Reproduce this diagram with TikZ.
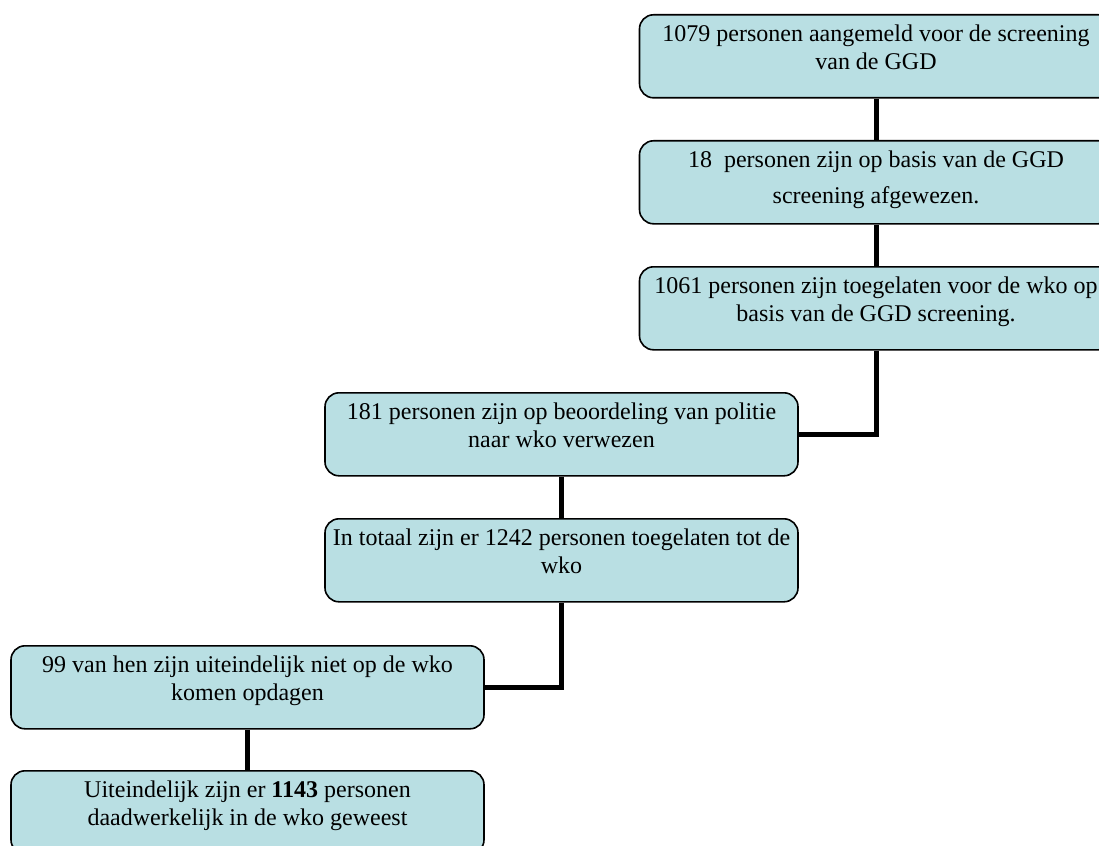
\documentclass[tikz,border=0pt]{standalone}
\usepackage{fontspec}
\setmainfont{Liberation Serif}
\usepackage{tikz}
\usetikzlibrary{arrows.meta}
\usetikzlibrary{calc}

\definecolor{boxfill}{RGB}{185,223,227}
\newcommand{\boxtxt}[1]{\parbox[c][83pt][t]{473pt}{\centering\fontsize{24}{28}\selectfont\rule{0pt}{27pt}#1}}

\tikzset{
	stage/.style={draw=black, line width=1.6pt, fill=boxfill, rounded corners=14pt,
		minimum width=473pt, minimum height=83pt, inner sep=0pt, anchor=north},
	link/.style={line width=5pt}
}

\begin{document}
\begin{tikzpicture}[x=1pt,y=-1pt]
\useasboundingbox (0,0) rectangle (1099,845);
\clip (0,0) rectangle (1099,845);

\node[stage] (b1) at (876,14) {\boxtxt{1079 personen aangemeld voor de screening\\van de GGD}};
\node[stage] (b2) at (876,140) {\boxtxt{18\ \ personen zijn op basis van de GGD\\[8pt]screening afgewezen.}};
\node[stage] (b3) at (876,266) {\boxtxt{1061 personen zijn toegelaten voor de wko op\\basis van de GGD screening.}};
\node[stage] (b4) at (561.5,392) {\boxtxt{181 personen zijn op beoordeling van politie\\naar wko verwezen}};
\node[stage] (b5) at (561.5,518) {\boxtxt{In totaal zijn er 1242 personen toegelaten tot de\\wko}};
\node[stage] (b6) at (247.5,645) {\boxtxt{99 van hen zijn uiteindelijk niet op de wko\\komen opdagen}};
\node[stage] (b7) at (247.5,770) {\boxtxt{Uiteindelijk zijn er \textbf{1143} personen\\daadwerkelijk in de wko geweest}};

\draw [link] (b1.south) to (b2.north);
\draw [link] (b2.south) to (b3.north);
\draw [link] (b3.south) |- (b4.east);
\draw [link] (b4.south) to (b5.north);
\draw [link] (b5.south) |- (b6.east);
\draw [link] (b6.south) to (b7.north);

\end{tikzpicture}
\end{document}
